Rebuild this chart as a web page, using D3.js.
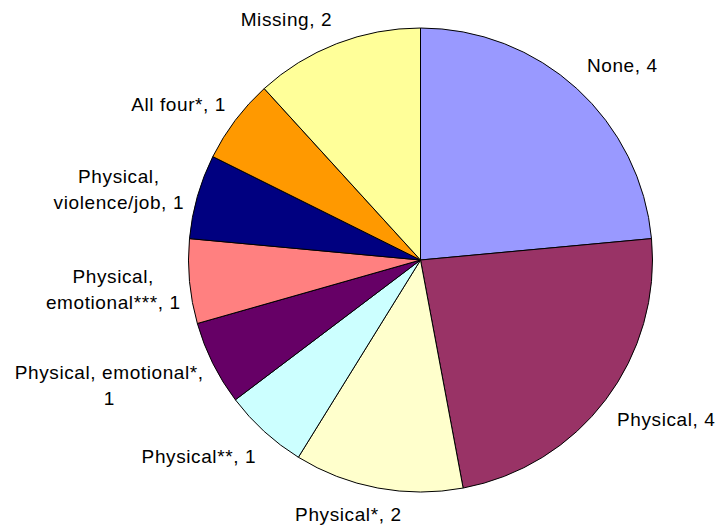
<!DOCTYPE html>
<html>
<head>
<meta charset="utf-8">
<script src="https://cdn.jsdelivr.net/npm/d3@7"></script>
<style>
  body { margin: 0; background: #fff; }
  svg { display: block; }
</style>
</head>
<body>
<div id="chart"></div>
<script>
// data, clockwise from 12 o'clock
var categories = ["None", "Physical", "Physical*", "Physical**", "Physical, emotional*",
  "Physical, emotional***", "Physical, violence/job", "All four*", "Missing"];
var values = [4, 4, 2, 1, 1, 1, 1, 1, 2];
// label text as shown (line breaks like the original)
var labelLines = [
  ["None, 4"],
  ["Physical, 4"],
  ["Physical*, 2"],
  ["Physical**, 1"],
  ["Physical, emotional*,", "1"],
  ["Physical,", "emotional***, 1"],
  ["Physical,", "violence/job, 1"],
  ["All four*, 1"],
  ["Missing, 2"]
];
var colors = ["#9999ff", "#993366", "#ffffcc", "#ccffff", "#660066",
  "#ff8080", "#000080", "#ff9900", "#ffff99"];

// small hand tweaks of label placement
var labelNudge = [[-2, -3], [-3, 3], [27, 0], [4, 5], [7, 4], [9, 4], [4, 4], [5, 0], [2, 1]];

var width = 718, height = 529;
var cx = 420.5, cy = 260, radius = 232;
var labelRadius = 250, lineHeight = 26;

var svg = d3.select('#chart').append('svg')
  .attr('width', width).attr('height', height);

var pie = d3.pie().sort(null).value(function (d) { return d; });
var arcs = pie(values);
var arc = d3.arc().innerRadius(0).outerRadius(radius);

var g = svg.append('g').attr('transform', 'translate(' + cx + ',' + cy + ')');

g.selectAll('path').data(arcs).join('path')
  .attr('d', arc)
  .attr('fill', function (d, i) { return colors[i]; })
  .attr('stroke', '#000')
  .attr('stroke-width', 1)
  .attr('stroke-linejoin', 'round');

var labels = g.selectAll('g.lbl').data(arcs).join('g').attr('class', 'lbl');

labels.each(function (d, i) {
  var sel = d3.select(this);
  var lines = labelLines[i];
  var texts = sel.selectAll('text').data(lines).join('text')
    .attr('text-anchor', 'middle')
    .attr('font-family', '"Liberation Sans", Arial, sans-serif')
    .attr('font-size', '19px')
    .attr('letter-spacing', '0.6px')
    .attr('fill', '#000')
    .text(function (t) { return t; });
  var w = 0;
  texts.each(function () { w = Math.max(w, this.getComputedTextLength()); });
  var h = lines.length > 1 ? 44 : 18;
  var a = (d.startAngle + d.endAngle) / 2;
  var s = Math.sin(a), c = Math.cos(a);
  var bx = labelRadius * s + (s >= 0 ? 1 : -1) * w / 2 + labelNudge[i][0];
  var by = -labelRadius * c - c * h / 2 + labelNudge[i][1];
  texts.attr('x', bx)
    .attr('y', function (t, j) { return by - (lines.length - 1) * lineHeight / 2 + j * lineHeight + 6.8; });
});
</script>
</body>
</html>
